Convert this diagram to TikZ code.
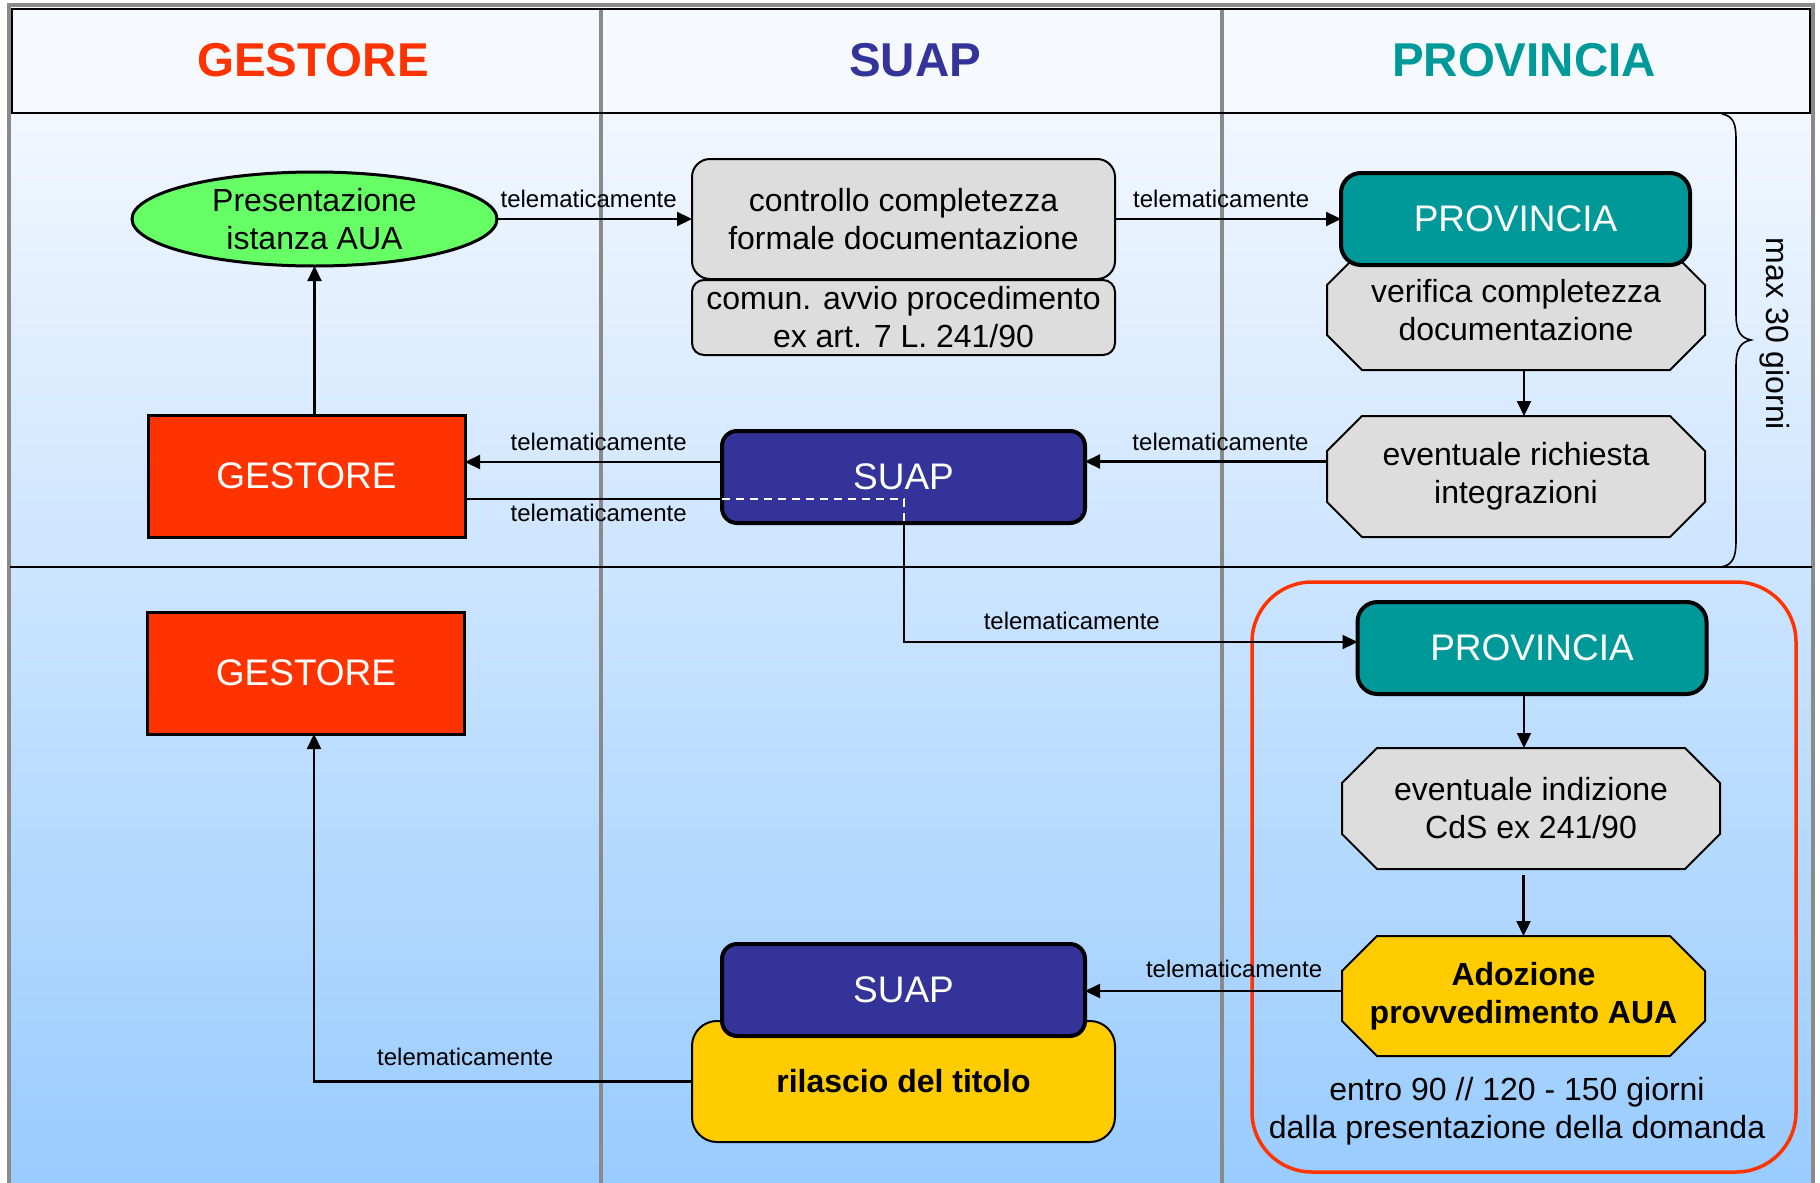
\documentclass[tikz,border=0pt]{standalone}
\usepackage{fontspec}
\setmainfont{Liberation Sans}
\usetikzlibrary{arrows.meta,shapes.geometric,calc}
\pgfdeclarelayer{back}
\pgfdeclarelayer{bg}
\pgfsetlayers{back,bg,main}
\definecolor{cred}{HTML}{FF3300}
\definecolor{cnavy}{HTML}{333399}
\definecolor{cteal}{HTML}{009999}
\definecolor{cyel}{HTML}{FFCC00}
\definecolor{cgreen}{HTML}{66FF66}
\definecolor{cgray}{HTML}{DDDDDD}
\definecolor{clane}{HTML}{8A8A8A}
\definecolor{bgtop}{HTML}{F2F7FF}
\definecolor{bgbot}{HTML}{99CCFF}
\definecolor{hdrbg}{HTML}{F6F9FE}
\newcommand\octpath[3]{%
  \begin{pgfonlayer}{bg}
  \draw[#3] ([xshift=#2]#1.north west) -- ([xshift=-#2]#1.north east) -- ([yshift=-#2]#1.north east) -- ([yshift=#2]#1.south east) -- ([xshift=-#2]#1.south east) -- ([xshift=#2]#1.south west) -- ([yshift=#2]#1.south west) -- ([yshift=-#2]#1.north west) -- cycle;
  \end{pgfonlayer}}
\tikzset{
  lbl/.style={font=\fontsize{24}{28}\selectfont, inner sep=0pt},
  bodytxt/.style={font=\fontsize{32}{38}\selectfont, align=center},
  titletxt/.style={font=\fontsize{37}{44}\selectfont, text=white},
  hdr/.style={font=\fontsize{47.5}{56}\selectfont\bfseries},
  box/.style={inner sep=0pt, outer sep=0pt, align=center},
  graybox/.style={box, bodytxt, draw, fill=cgray, line width=2pt},
  provbox/.style={box, titletxt, draw, fill=cteal, line width=4pt, rounded corners=20pt, minimum width=349pt, minimum height=92pt},
  suapbox/.style={box, titletxt, draw, fill=cnavy, line width=4pt, rounded corners=15pt, minimum width=363pt, minimum height=92pt},
  gestbox/.style={box, titletxt, draw, fill=cred, line width=3pt, minimum width=317pt, minimum height=122pt},
  octnode/.style={box, bodytxt, draw=none},
  octgray/.style={draw, fill=cgray, line width=2pt},
  octyel/.style={draw, fill=cyel, line width=2pt},
  arr/.style={line width=2.2pt, -{Triangle[length=15pt,width=14pt]}},
  hid/.style={white, line width=2.2pt, dash pattern=on 8pt off 6pt},
}
\begin{document}
\begin{tikzpicture}[x=1pt,y=-1pt]
\useasboundingbox (0,0) rectangle (1820,1183);
\begin{pgfonlayer}{back}
  \fill[white] (0,0) rectangle (1820,1183);
  \shade[top color=bgtop, bottom color=bgbot] (10,113) rectangle (1812,1183);
  \fill[hdrbg] (10,8) rectangle (1812,113);
  \draw[clane, line width=3.5pt] (601,8) -- (601,1183);
  \draw[clane, line width=3.5pt] (1222,8) -- (1222,1183);
  \draw[clane, line width=4pt] (9,5) -- (1813,5);
  \draw[clane, line width=4pt] (9,3) -- (9,1183);
  \draw[clane, line width=4pt] (1813,3) -- (1813,1183);
  \draw[line width=2.5pt] (12,9) rectangle (1810,113);
  \draw[line width=2pt] (10,567) -- (1812,567);
\end{pgfonlayer}

% headers
\node[hdr, text=cred] (hg) at (313,60) {GESTORE};
\node[hdr, text=cnavy] (hs) at (915,60) {SUAP};
\node[hdr, text=cteal] (hp) at (1524,60) {PROVINCIA};

% row 1
\node[box, bodytxt, draw, fill=cgreen, line width=3pt, ellipse, minimum width=365pt, minimum height=94pt] (ell) at (314.5,219) {Presentazione\\istanza AUA};
\node[graybox, rounded corners=18pt, minimum width=423pt, minimum height=120pt] (ctrl) at (903.5,219) {controllo completezza\\formale documentazione};
\node[graybox, rounded corners=12pt, minimum width=423pt, minimum height=75pt] (comun) at (903.5,317.5) {comun. avvio procedimento\\ex art. 7 L. 241/90};

\node[octnode, minimum width=378pt, minimum height=120pt] (verif) at (1516,310) {verifica completezza\\documentazione};
\octpath{verif}{35pt}{octgray}
\node[provbox] (prov1) at (1515.5,219) {PROVINCIA};
\node[octnode, minimum width=378pt, minimum height=121pt] (rich) at (1516,476.5) {eventuale richiesta\\integrazioni};
\octpath{rich}{35pt}{octgray}

\node[gestbox] (g1) at (306.5,476) {GESTORE};

% row 2
\node[draw=cred, line width=3.5pt, rounded corners=60pt, minimum width=544pt, minimum height=590pt, inner sep=0pt] (frame) at (1524,877) {};
\node[provbox] (prov2) at (1532,648) {PROVINCIA};
\node[octnode, minimum width=378pt, minimum height=121pt] (indiz) at (1531,808.5) {eventuale indizione\\CdS ex 241/90};
\octpath{indiz}{35pt}{octgray}
\node[octnode, font=\fontsize{32}{38}\selectfont\bfseries, minimum width=363pt, minimum height=120pt] (adoz) at (1523.5,996) {Adozione\\provvedimento AUA};
\octpath{adoz}{35pt}{octyel}
\node[bodytxt, inner sep=0pt] (termine) at (1517,1111) {entro 90 // 120 - 150 giorni\\dalla presentazione della domanda};

\node[gestbox] (g2) at (306,673) {GESTORE};
\node[box, draw, fill=cyel, line width=2pt, rounded corners=25pt, minimum width=423pt, minimum height=121pt, font=\fontsize{32}{38}\selectfont\bfseries] (ril) at (903.5,1081.5) {rilascio del titolo};
\node[suapbox] (suap2) at (903.5,990) {SUAP};

% connector behind SUAP 1
\coordinate (k) at (904,642);
\draw[arr] ([yshift=-23pt]g1.east) -| (k) -- node[lbl, above=11pt, pos=0.37] {telematicamente} ([yshift=6pt]prov2.west);
\node[suapbox] (suap1) at (903.5,477) {SUAP};
\draw[hid] ([yshift=-22pt]suap1.west) -| (k |- suap1.south);
\node[lbl, below=5pt] at ($([yshift=-23pt]g1.east)!0.52!([yshift=-22pt]suap1.west)$) {telematicamente};

% connectors
\draw[arr] (ell.east) -- node[lbl, above=10pt, pos=0.47] {telematicamente} (ctrl.west);
\draw[arr] (ctrl.east) -- node[lbl, above=10pt, pos=0.47] {telematicamente} (prov1.west);
\draw[arr] ([xshift=8pt]verif.south) -- ([xshift=8pt]verif.south |- rich.north);
\draw[arr] ([yshift=15pt]rich.west) -- node[lbl, above=10pt, pos=0.44] {telematicamente} ([yshift=15pt]rich.west -| suap1.east);
\draw[arr] ([yshift=15pt]suap1.west) -- node[lbl, above=10pt, pos=0.48] {telematicamente} ([yshift=15pt]suap1.west -| g1.east);
\draw[arr] (g1.north -| ell.south) -- (ell.south);

\draw[arr] ([xshift=-8pt]prov2.south) -- ([xshift=-8pt]prov2.south |- indiz.north);
\draw[arr, shorten <=6pt] (adoz.north |- indiz.south) -- (adoz.north);
\draw[arr] ([yshift=5pt]adoz.west) -- node[lbl, above=12pt, pos=0.42] {telematicamente} ([yshift=5pt]adoz.west -| suap2.east);
\draw[arr] (ril.west) -| node[lbl, above=15pt, pos=0.3] {telematicamente} ([xshift=8pt]g2.south);

% brace
\draw[line width=1.6pt] (1722,114) .. controls (1734,116) and (1736,125) .. (1736,140) -- (1736,315) .. controls (1736,330) and (1740,338) .. (1751,340) .. controls (1740,342) and (1736,350) .. (1736,365) -- (1736,540) .. controls (1736,555) and (1734,565) .. (1721,567);
\node[bodytxt, rotate=-90, inner sep=0pt] (maxg) at (1775,334) {max 30 giorni};
\end{tikzpicture}
\end{document}
